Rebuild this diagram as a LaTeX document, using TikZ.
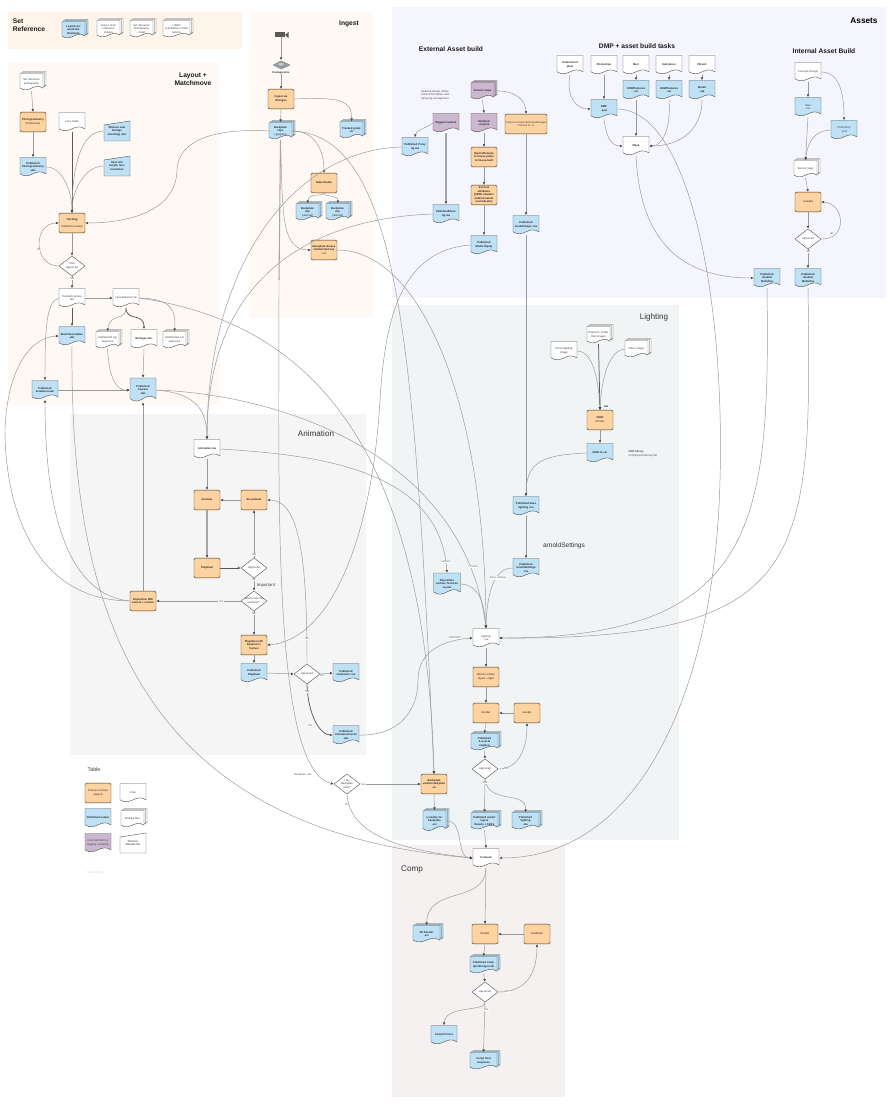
\documentclass[tikz,border=0pt]{standalone}
\usepackage{fontspec}
\setmainfont{Liberation Sans}
\usetikzlibrary{arrows.meta}
\definecolor{cOr}{HTML}{FDD3A2}
\definecolor{cBl}{HTML}{BEE1F5}
\definecolor{cPu}{HTML}{CBB8D0}
\definecolor{cLine}{HTML}{999999}
\definecolor{cEdge}{HTML}{555555}
\definecolor{pSet}{HTML}{FEF4EA}
\definecolor{pWarm}{HTML}{FEF9F5}
\definecolor{pAsset}{HTML}{F5F5FD}
\definecolor{pLight}{HTML}{F1F4F5}
\definecolor{pAnim}{HTML}{F5F5F5}
\definecolor{pComp}{HTML}{F5F1F1}
\tikzset{
 x=0.75pt,y=-0.75pt,
 outl/.style={draw=cEdge,line width=0.32pt,line join=round},
 txt/.style={inner sep=0pt,align=center,font=\fontsize{2.05}{2.7}\selectfont\color{black!75}},
 btxt/.style={txt,font=\fontsize{2.05}{2.7}\selectfont\bfseries\color{black!85}},
 panel/.style={draw=none},
 conn/.style={draw=cLine,line width=0.36pt,-{Latex[length=2.1pt,width=2pt,color=black!70]}},
 thick conn/.style={draw=black!35,line width=0.95pt,-{Latex[length=2.1pt,width=2pt,color=black!70]}},
 dark conn/.style={draw=black!65,line width=0.55pt,-{Latex[length=2.1pt,width=2pt]}},
 lab/.style={inner sep=0.3pt,fill=white,font=\fontsize{2}{2.4}\selectfont\color{black!65}},
 plainlab/.style={inner sep=0pt,font=\fontsize{2.05}{2.7}\selectfont\color{black!70}},
 title/.style={inner sep=0pt,align=center,font=\fontsize{5}{6.2}\selectfont\bfseries\color{black!90}},
 ptitle/.style={inner sep=0pt,font=\fontsize{6.1}{7}\selectfont\color{black!80}},
}
\newcommand\sheet[5]{%
 \pgfmathsetmacro\xl{#1-#3/2}\pgfmathsetmacro\xr{#1+#3/2}%
 \pgfmathsetmacro\yt{#2-#4/2}\pgfmathsetmacro\yb{#2+#4*0.36}%
 \pgfmathsetmacro\cxa{#1+#3*0.1}\pgfmathsetmacro\cya{\yb-#4*0.36}%
 \pgfmathsetmacro\cxb{#1-#3*0.1}\pgfmathsetmacro\cyb{\yb+#4*0.36}%
 \draw[outl,fill=#5] (\xl,\yt) -- (\xr,\yt) -- (\xr,\yb) .. controls (\cxa,\cya) and (\cxb,\cyb) .. (\xl,\yb) -- cycle;}
\newcommand\boxnode[6]{%
 \pgfmathsetmacro\MW{#5*0.75}\pgfmathsetmacro\MH{#6*0.75}%
 \node[#1,minimum width=\MW pt,minimum height=\MH pt] (#2) at (#3,#4)}
\newcommand\Doc[6][txt]{\sheet{#3}{#4}{26}{19}{#5}\boxnode{#1}{#2}{#3}{#4}{26}{19} {#6};}
\newcommand\DocS[7][txt]{\sheet{#3}{#4}{#6}{#7}{#5}\boxnode{#1}{#2}{#3}{#4}{#6}{#7}}
\def\sw{23}\def\sh{17}
\newcommand\Stack[6][txt]{%
 \pgfmathsetmacro\sx{#3+1.5}\pgfmathsetmacro\sy{#4-1}\sheet{\sx}{\sy}{\sw}{\sh}{#5}%
 \sheet{#3}{#4}{\sw}{\sh}{#5}%
 \pgfmathsetmacro\fx{#3-1.5}\pgfmathsetmacro\fy{#4+1}\sheet{\fx}{\fy}{\sw}{\sh}{#5}%
 \boxnode{#1}{#2}{\fx}{\fy}{\sw}{\sh} {#6};}
\newcommand\Proc[4]{\node[btxt,outl,draw=black!60!brown,fill=cOr,rounded corners=1pt,minimum width=19.5pt,minimum height=14.7pt] (#1) at (#2,#3) {#4};}
\newcommand\Dia[4]{%
 \pgfmathsetmacro\xl{#2-13}\pgfmathsetmacro\xr{#2+13}\pgfmathsetmacro\yt{#3-10}\pgfmathsetmacro\yb{#3+10}%
 \draw[outl,fill=white] (\xl,#3) -- (#2,\yt) -- (\xr,#3) -- (#2,\yb) -- cycle;
 \node[txt,minimum width=19.5pt,minimum height=15pt] (#1) at (#2,#3) {#4};}
\newcommand\Man[5]{%
 \pgfmathsetmacro\xl{#2-13}\pgfmathsetmacro\xr{#2+13}\pgfmathsetmacro\yt{#3-10}\pgfmathsetmacro\yb{#3+10}\pgfmathsetmacro\ym{#3-6}%
 \draw[outl,fill=#4] (\xl,\ym) -- (\xr,\yt) -- (\xr,\yb) -- (\xl,\yb) -- cycle;
 \node[btxt,minimum width=19.5pt,minimum height=15pt] (#1) at (#2,#3) {#5};}
\newcommand\reg[1]{{\mdseries #1}}
\begin{document}
\begin{tikzpicture}
\useasboundingbox (0,0) rectangle (891,1120);
\fill[white] (0,0) rectangle (891,1120);
% panels
\fill[pSet] (8,12) rectangle (242,49);
\fill[pWarm] (8,63) rectangle (220,405);
\fill[pWarm] (250,12) rectangle (373,318);
\fill[pAsset] (392,7) rectangle (886,298);
\fill[pLight] (392,305) rectangle (679,840);
\fill[pAnim] (70,414) rectangle (366,755);
\fill[pComp] (392,845) rectangle (565,1097);
% titles
\node[title,align=left] (tSet) at (29,25) {Set\\Reference};
\node[title] (tLayout) at (193,79) {Layout +\\Matchmove};
\node[title] (tIngest) at (349,24) {Ingest};
\node[title,font=\fontsize{6.2}{7}\selectfont\bfseries] (tAssets) at (864,21) {Assets};
\node[title] (tExt) at (451,49) {External Asset build};
\node[title] (tDmp) at (637,46) {DMP + asset build tasks};
\node[title] (tInt) at (824,51) {Internal Asset Build};
\node[ptitle] (tLight) at (654,317) {Lighting};
\node[ptitle] (tAnim) at (316,434) {Animation};
\node[ptitle] (tComp) at (412,869) {Comp};
\node[inner sep=0pt,font=\fontsize{4.9}{6}\selectfont\color{black!80}] (tArnold) at (564,546) {arnoldSettings};
\node[inner sep=0pt,font=\fontsize{3.2}{4}\selectfont\color{black!75}] (tImp) at (266,585) {Important};
\node[inner sep=0pt,font=\fontsize{4}{5}\selectfont\color{black!75}] (tTable) at (94,770) {Table};
\node[inner sep=0pt,font=\fontsize{2.2}{3}\selectfont\color{black!20}] (tRev) at (95,872) {Rev. 2 /5/21};
% set reference
\Stack[btxt]{sr1}{75}{29}{cBl}{Lead Actor\\wardrobe\\Elements}
\Stack{sr2}{110}{28}{white}{Asset / Actor\\reference\\images}
\Stack{sr3}{143}{28}{white}{Set reference\\photography\\/ Lidar}
\def\sw{27}\Stack{sr4}{178}{28}{white}{LIDAR\\scan/Motion / Data\\options}\def\sw{23}
% layout
\Stack{setref}{33}{81}{white}{Set reference\\photography}
\Proc{photog}{33}{122}{Photogrammetry\\\reg{(Photoscan)}}
\Doc[btxt]{pubphoto}{33}{167}{cBl}{Published\\Photogrammetry\\.abc}
\Doc{lens}{72}{122}{white}{Lens Grids}
\Man{witness}{117}{131}{cBl}{Witness cam\\footage\\shooting) .abc}
\Man{shotinfo}{117}{166}{cBl}{Shot info\\length, lens\\resolution}
\Proc{track}{72}{223}{Tracking\\[2pt]\reg{Submit for review}}
\Dia{dShot}{72}{266}{Shot\\Approved}
\Doc{tracked}{72}{298}{white}{Tracked camera\\.abc}
\Doc{lensdist}{126}{298}{white}{Lens distortion.nk}
\Doc[btxt]{matchsolve}{72}{336}{cBl}{Matchmoveables\\.abc}
\Stack{undjpg}{109}{339}{white}{Undistorted .bg\\sequence}
\Doc[btxt]{writegeo}{144}{339}{white}{Writegeo.abc}
\Stack{undexr}{176}{339}{white}{Undistorted .exr\\sequence}
\Doc[btxt]{pubanim}{45}{390}{cBl}{Published\\animation.abc}
\DocS[btxt]{pubcam}{143}{390}{cBl}{26}{24}{Published\\Camera\\.abc};
% ingest
\fill[black!65] (275,32.5) rectangle (285,37.5);
\fill[black!65] (285,35) -- (288.5,32) -- (288.5,38) -- cycle;
\node[inner sep=0pt,minimum size=3pt] (cam) at (281,35) {};
\draw[outl,draw=black!50,fill=cyan!20!black!50] (273,65) -- (281,61) -- (290,65) -- (281,69) -- cycle;
\draw[outl,draw=black!50,fill=black!22] (276,64) -- (281,62) -- (286,64) -- (281,66.5) -- cycle;
\node[inner sep=0pt,minimum width=12pt,minimum height=7pt] (disk) at (281,65) {};
\node[btxt] (footage) at (281,72.5) {Footage.mov};
\Proc{ingest}{281}{99}{Ingest via\\Shotgun}
\Stack[btxt]{backplate}{282}{130}{cBl}{Backplate\\clips\\\reg{(.jpeg/exr)}}
\Stack[btxt]{grade}{353}{129}{cBl}{Tracked grade\\.clr}
\Proc{nuke}{324}{183}{Nuke Studio}
\Stack[btxt]{clipa}{309}{211}{cBl}{Backplate\\clip\\\reg{(retimed)}}
\Stack[btxt]{clipb}{339}{211}{cBl}{Backplate\\clip\\\reg{(retimed)}}
\Proc{grease}{324}{250}{Baseplate Grease\\Undistorted seq\\\reg{.exr}}
\coordinate (stemEnd) at (279,280);
% external
\node[plainlab,align=left] (nAwait) at (435,95) {Awaiting design, Matte\\Artwork formalities and\\Hipoly/rig arrangement};
\Stack[btxt]{texp}{484}{90}{cPu}{Texture maps}
\Doc[btxt]{rigged}{446}{123}{cPu}{Rigged creature}
\Doc[btxt]{modeled}{484}{123}{cPu}{Modeled\\creature}
\node[txt,outl,draw=black!60!brown,fill=cOr,rounded corners=1pt,minimum width=31.5pt,minimum height=14.7pt] (copy) at (526,124) {Copy to location/tools/usd/images\\Convert to .tx};
\Doc[btxt]{proxy}{415}{147}{cBl}{Published Proxy\\rig.ma}
\Proc{importr}{484}{157}{Import/Rename\\to house paths\\to house-built}
\Proc{setfinal}{484}{195}{Set final\\attributes\\(UDIM, shaders\\and/or/custom\\override.abc)}
\Doc[btxt]{hero}{446}{214}{cBl}{Published/hero\\rig.ma}
\Doc[btxt]{hipoly}{484}{245}{cBl}{Published\\Model Hipoly}
\Doc[btxt]{pubshape}{526}{225}{cBl}{Published\\model/shape .ma}
% dmp
\Doc[btxt]{undplate}{570}{65}{white}{Undistorted\\plate}
\Doc[btxt]{photoshop}{604}{65}{white}{Photoshop}
\Doc[btxt]{mari}{636}{65}{white}{Mari}
\Doc[btxt]{subst}{669}{65}{white}{Substance}
\Doc[btxt]{zbrush}{702}{65}{white}{Zbrush}
\Doc[btxt]{dmp}{604}{109}{cBl}{DMP\\.psd}
\Doc[btxt]{udima}{636}{90}{cBl}{UDIMTextures\\.exr}
\Doc[btxt]{udimb}{669}{90}{cBl}{UDIMTextures\\.exr}
\Doc[btxt]{modelobj}{702}{90}{cBl}{Model\\.obj}
\Doc[btxt]{maya}{636}{146}{white}{Maya}
% internal
\Doc{concept}{808}{72}{white}{Concept /Design}
\Doc{imari}{808}{107}{cBl}{Mari\\.exr}
\Doc{iphoto}{844}{130}{cBl}{Photoshop\\.psd}
\Stack{itex}{807}{168}{white}{Texture maps}
\Proc{lookdev}{808}{202}{\reg{Lookdev}}
\Dia{dInt}{808}{239}{Approved}
\Doc[btxt]{shadeda}{808}{278}{cBl}{Published\\shaded\\Modeling}
\Doc[btxt]{shadedb}{767}{278}{cBl}{Published\\shaded\\Modeling}
% lighting
\Stack{plat}{600}{334}{white}{Platinum, model\\Intel Images}
\Doc{shoot}{564}{351}{white}{Shoot lighting\\image}
\Stack{plate}{638}{348}{white}{Plate Images}
\Proc{hdri}{600}{420}{HDRI\\\reg{(Prism)}}
\node[btxt,font=\fontsize{2}{2.4}\selectfont\bfseries] (nSet) at (606,407) {set};
\Doc[btxt]{hdritx}{600}{453}{cBl}{HDRI.tx.exr}
\node[plainlab,align=left] (nHdr) at (643,453.5) {\textbf{HDR library}\\/mnt/projects/library/hdr};
\Doc[btxt]{baselight}{526}{506}{cBl}{Published base\\lighting .ma}
\Doc[btxt]{arnold}{526}{568}{cBl}{Published\\arnoldSettings\\.ma}
\DocS[btxt]{repos}{447}{584}{cBl}{27}{22}{Reposition\\surface Textures\\sound};
\Doc{lighting}{486}{638}{white}{lighting\\.ma}
\Proc{actions}{486}{677}{\reg{Nonrez render,}\\\reg{layers + light}}
\Proc{render}{486}{713}{\reg{Render}}
\Proc{google}{527}{713}{\reg{Google}}
\def\sw{27}
\Stack[btxt]{aover}{486}{741}{cBl}{Published\\A-over-B\\img/seq}
\Dia{dRender}{485}{769}{Approved}
\Stack[btxt]{layers}{486}{820}{cBl}{Published render\\layers\\Beauty + AOVs}
\Stack[btxt]{publight}{527}{820}{cBl}{Published\\lighting\\.ma}
\def\sw{23}
\Proc{undplateP}{434}{784}{Backplate\\undistorted plate\\.ex}
\def\sh{21}\Stack[btxt]{lookback}{436}{820}{cBl}{Lookdev for\\backplate\\.exr}\def\sh{17}
% animation
\Doc[btxt]{animma}{207}{449}{white}{Animation.ma}
\Proc{animate}{207}{500}{Animate}
\Proc{reanim}{254}{500}{Re-animate}
\Proc{playblast}{207}{568}{Playblast}
\Dia{dPlay}{254}{568}{Approved}
\Dia{dWhere}{254}{601}{Where was the\\problem?}
\Proc{reposmm}{143}{601}{Reposition MM\\camera + surface}
\Proc{playdyn}{254}{645}{Playblast with\\Dynamics /\\Texture}
\Doc[btxt]{pubplay}{254}{673}{cBl}{Published\\Playblast}
\Dia{dPub}{307}{674}{Approved}
\Doc[btxt]{pubanimma}{346}{673}{cBl}{Published\\Animation .ma}
\Doc[btxt]{pubcache}{346}{735}{cBl}{Published\\Animation/cache\\.abc}
\Dia{dHas}{347}{784}{Has\\Backplate\\plate?}
% comp
\Doc[btxt]{compnk}{486}{858}{white}{Comp.nk}
\def\sw{27}
\Stack[btxt]{threed}{428}{933}{cBl}{3D Render\\.exr}
\Proc{crender}{485}{934}{\reg{Render}}
\Proc{feedback}{537}{934}{\reg{Feedback}}
\Stack[btxt]{pubcomp}{485}{964}{cBl}{Published comp\\dpx/Shotgun 4K}
\Dia{dComp}{485}{992}{Approved}
\Doc[btxt]{cprint}{444}{1035}{cBl}{Comp Print.ra}
\Stack[btxt]{cfinal}{485}{1060}{cBl}{Comp final\\sequence}
\def\sw{23}
% table
\Proc{k1}{98}{793}{\reg{Process (human}\\\reg{aspect)}}
\Doc{k2}{133}{793}{white}{Files}
\Doc[btxt]{k3}{98}{818}{cBl}{Published output}
\Stack{k4}{134}{818}{white}{Multiple files}
\Doc{k5}{98}{843}{cPu}{External/Work by\\Rigging, modeling}
\Man{k6}{133}{843}{white}{\reg{Shortcut,}\\\reg{data/abc/etc}}
% connectors: layout
\draw[conn] (setref.south) -- (photog.north);
\draw[conn] (photog.south) -- (pubphoto.north);
\draw[dark conn] (lens.south) -- (track.north);
\draw[conn] (pubphoto.east) .. controls (62,167) and (72,190) .. (track.north);
\draw[conn] (witness.west) .. controls (80,131) and (72,170) .. (track.north);
\draw[conn] (shotinfo.west) .. controls (85,166) and (72,190) .. (track.north);
\draw[conn] (backplate.west) .. controls (215,128) and (178,140) .. (177,170) .. controls (176,215) and (120,223) .. (track.east);
\draw[conn] (track.south) -- (dShot.north);
\draw[conn] (dShot.west) .. controls (33,266) and (33,223) .. (track.west);
\draw[conn] (dShot.south) -- (tracked.north);
\draw[conn] (tracked.east) -- (lensdist.west);
\draw[dark conn] (tracked.south) -- (matchsolve.north);
\draw[conn] (tracked.west) .. controls (46,302) and (45,330) .. (pubanim.north);
\draw[conn] (lensdist.south) .. controls (126,322) and (110,312) .. (undjpg.north);
\draw[dark conn] (lensdist.south) .. controls (126,322) and (144,312) .. (writegeo.north);
\draw[conn] (lensdist.east) .. controls (172,299) and (176,310) .. (undexr.north);
\draw[conn] (undjpg.south) .. controls (109,375) and (115,391) .. (pubcam.west);
\draw[conn] (writegeo.south) -- (pubcam.north);
\draw[conn] (pubanim.east) -- (pubcam.west);
\draw[conn] (reposmm.north) -- (pubcam.south);
\draw[conn] (reposmm.west) .. controls (30,600) and (5,500) .. (5,430) .. controls (7,370) and (30,337) .. (matchsolve.west);
\draw[conn] (reposmm.west) .. controls (80,596) and (45,540) .. (pubanim.south);
\draw[conn] (matchsolve.south) .. controls (70,600) and (130,830) .. (compnk.west);
\draw[conn] (pubcam.east) .. controls (190,393) and (207,405) .. (animma.north);
\draw[conn] (pubcam.east) .. controls (290,395) and (465,460) .. (lighting.north);
% ingest
\draw[conn] (cam) -- (disk);
\draw[conn] (footage) -- (ingest.north);
\draw[conn] (ingest.south) -- (backplate.north);
\draw[conn] (ingest.east) .. controls (340,97) and (352,100) .. (grade.north);
\draw[conn] (backplate.east) .. controls (315,131) and (324,150) .. (nuke.north);
\draw[conn] (nuke.south) .. controls (324,197) and (309,192) .. (clipa.north);
\draw[conn] (nuke.south) .. controls (324,197) and (339,195) .. (clipb.north);
\draw[conn] (backplate.east) .. controls (400,135) and (415,350) .. (undplateP.north);
\draw[conn] (grease.east) .. controls (420,250) and (485,400) .. (lighting.north);
\draw[conn] (backplate.south) .. controls (283,210) and (280,250) .. (grease.west);
\draw[draw=black!35,line width=0.8pt] (backplate.south) -- (stemEnd);
\draw[conn] (stemEnd) .. controls (279,500) and (272,770) .. (dHas.west);
\draw[conn] (lensdist.east) .. controls (290,320) and (425,420) .. (undplateP.north);
% external
\draw[conn] (texp.south) -- (modeled.north);
\draw[conn] (texp.east) .. controls (515,90) and (526,100) .. (copy.north);
\draw[conn] (rigged.west) .. controls (425,129) and (416,130) .. (proxy.north);
\draw[thick conn] (rigged.south) -- (hero.north);
\draw[conn] (modeled.south) -- (importr.north);
\draw[conn] (importr.south) -- (setfinal.north);
\draw[conn] (setfinal.south) -- (hipoly.north);
\draw[conn] (copy.south) -- (pubshape.north);
\draw[conn] (pubshape.south) -- (baselight.north);
\draw[conn] (proxy.west) .. controls (290,150) and (207,270) .. (animma.north);
\draw[conn] (hero.west) .. controls (320,218) and (207,270) .. (animma.north);
\draw[conn] (hipoly.west) .. controls (400,250) and (385,320) .. (380,400) .. controls (372,540) and (330,640) .. (playdyn.east);
\draw[conn] (animma.east) .. controls (320,455) and (440,470) .. (repos.north);
% dmp
\draw[conn] (undplate.south) .. controls (566,95) and (575,109) .. (dmp.west);
\draw[conn] (photoshop.south) -- (dmp.north);
\draw[conn] (mari.south) -- (udima.north);
\draw[conn] (subst.south) -- (udimb.north);
\draw[conn] (zbrush.south) -- (modelobj.north);
\draw[conn] (dmp.south) .. controls (606,135) and (610,146) .. (maya.west);
\draw[conn] (udima.south) -- (maya.north);
\draw[conn] (udimb.south) .. controls (671,125) and (664,146) .. (maya.east);
\draw[conn] (modelobj.south) .. controls (702,130) and (680,146) .. (maya.east);
\draw[conn] (maya.south) .. controls (640,240) and (680,278) .. (shadedb.west);
\draw[conn] (dmp.east) .. controls (690,110) and (725,300) .. (720,480) .. controls (715,690) and (640,858) .. (compnk.east);
% internal
\draw[conn] (concept.south) -- (imari.north);
\draw[conn] (concept.east) .. controls (842,72) and (844,100) .. (iphoto.north);
\draw[conn] (imari.south) -- (itex.north);
\draw[conn] (iphoto.west) .. controls (815,131) and (808,140) .. (itex.north);
\draw[conn] (itex.south) -- (lookdev.north);
\draw[conn] (lookdev.south) -- (dInt.north);
\draw[conn] (dInt.east) .. controls (848,240) and (845,203) .. (lookdev.east);
\draw[conn] (dInt.south) -- (shadeda.north);
\draw[conn] (shadedb.south) .. controls (770,520) and (760,638) .. (lighting.east);
\draw[conn] (shadeda.south) .. controls (812,560) and (810,640) .. (lighting.east);
% lighting
\draw[conn] (shoot.east) .. controls (590,351) and (598,370) .. (hdri.north);
\draw[dark conn] (plat.south) -- (hdri.north);
\draw[conn] (plate.west) .. controls (612,350) and (602,370) .. (hdri.north);
\draw[conn] (hdri.south) -- (hdritx.north);
\draw[conn] (hdritx.west) .. controls (545,455) and (526,460) .. (baselight.north);
\draw[conn] (baselight.south) -- (arnold.north);
\draw[conn] (arnold.west) .. controls (495,568) and (487,590) .. (lighting.north);
\draw[conn] (repos.east) .. controls (478,585) and (484,600) .. (lighting.north);
\draw[conn] (lighting.south) -- (actions.north);
\draw[conn] (actions.south) -- (render.north);
\draw[conn] (google.west) -- (render.east);
\draw[conn] (render.south) -- (aover.north);
\draw[conn] (aover.south) -- (dRender.north);
\draw[conn] (dRender.east) .. controls (518,769) and (527,750) .. (google.south);
\draw[conn] (dRender.south) -- (layers.north);
\draw[conn] (dRender.south) .. controls (488,805) and (527,790) .. (publight.north);
\draw[conn] (layers.south) -- (compnk.north);
\draw[conn] (undplateP.south) -- (lookback.north);
\draw[conn] (lookback.east) .. controls (465,820) and (455,858) .. (compnk.west);
\draw[conn] (dHas.east) -- (undplateP.west);
\draw[conn] (dHas.south) .. controls (350,835) and (400,850) .. (compnk.west);
% animation
\draw[conn] (animma.south) -- (animate.north);
\draw[conn] (reanim.west) -- (animate.east);
\draw[thick conn] (animate.south) -- (playblast.north);
\draw[dark conn] (playblast.east) -- (dPlay.west);
\draw[conn] (dPlay.north) -- (reanim.south);
\draw[conn] (dPlay.south) -- (dWhere.north);
\draw[conn] (dWhere.west) -- (reposmm.east);
\draw[conn] (dWhere.south) -- (playdyn.north);
\draw[conn] (playdyn.south) -- (pubplay.north);
\draw[conn] (pubplay.east) -- (dPub.west);
\draw[conn] (dPub.east) -- (pubanimma.west);
\draw[conn] (dPub.north) .. controls (307,560) and (300,500) .. (reanim.east);
\draw[dark conn] (dPub.south) .. controls (308,715) and (320,735) .. (pubcache.west);
\draw[conn] (pubcache.east) .. controls (400,736) and (418,710) .. (418,680) .. controls (418,650) and (445,640) .. (lighting.west);
% comp
\draw[conn] (compnk.south) -- (crender.north);
\draw[conn] (compnk.south) .. controls (485,905) and (428,885) .. (threed.north);
\draw[conn] (feedback.west) -- (crender.east);
\draw[conn] (crender.south) -- (pubcomp.north);
\draw[conn] (pubcomp.south) -- (dComp.north);
\draw[conn] (dComp.east) .. controls (525,992) and (537,975) .. (feedback.south);
\draw[conn] (dComp.south) -- (cfinal.north);
\draw[conn] (dComp.south) .. controls (485,1012) and (445,1005) .. (cprint.north);
% labels
\node[lab] (l1) at (39,250) {No};
\node[lab] (l2) at (72,279) {Yes};
\node[lab] (l3) at (254,555) {Yes};
\node[lab] (l4) at (254,580) {No};
\node[lab] (l5) at (221,602) {Yes};
\node[lab] (l6) at (254,614) {No};
\node[lab] (l7) at (307,639) {No};
\node[lab] (l8) at (322,676) {Yes};
\node[lab] (l9) at (307,692) {Yes};
\node[lab] (l10) at (310,726) {Yes};
\node[lab] (l11) at (363,785) {Yes};
\node[lab] (l12) at (347,805) {No};
\node[lab] (l13) at (303,775) {Backplate .abc};
\node[lab] (l14) at (832,234) {No};
\node[lab] (l15) at (808,252) {Yes};
\node[lab] (l16) at (446,562) {surface};
\node[lab] (l17) at (474,567) {Cutout};
\node[lab] (l18) at (498,578) {Base settings};
\node[lab] (l19) at (455,638) {Animation};
\node[lab] (l20) at (506,769) {No};
\node[lab] (l21) at (485,783) {Yes};
\node[lab] (l22) at (507,992) {No};
\node[lab] (l23) at (486,1010) {Yes};
\end{tikzpicture}
\end{document}
